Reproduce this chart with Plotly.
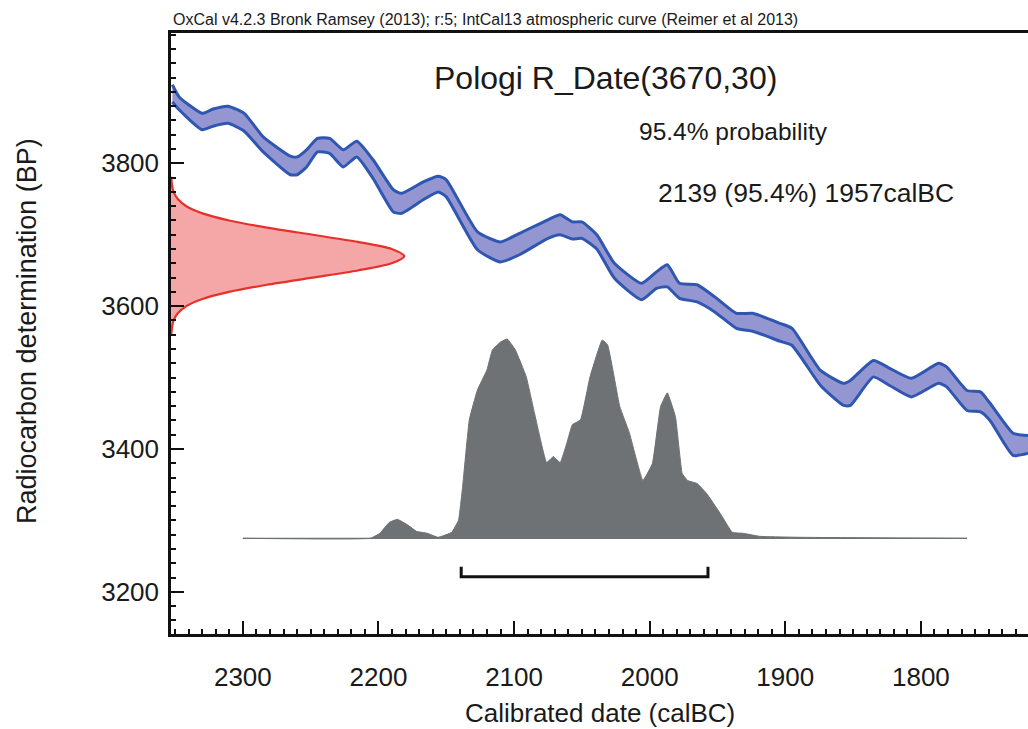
import plotly.graph_objects as go

# calibration curve (IntCal13 band)
cal_years = [2352, 2347, 2330, 2322, 2311, 2299, 2285, 2265, 2260, 2253,
             2245, 2236, 2226, 2216, 2204, 2189, 2183, 2167, 2156, 2150,
             2127, 2110, 2096, 2075, 2066, 2057, 2050, 2039, 2026, 2006,
             1995, 1987, 1978, 1965, 1952, 1936, 1924, 1904, 1895, 1874,
             1857, 1852, 1835, 1823, 1807, 1787, 1781, 1766, 1756, 1749,
             1732, 1721]
curve_upper = [3910, 3893, 3870, 3876, 3880, 3870, 3837, 3810, 3809, 3819,
               3835, 3835, 3819, 3831, 3805, 3763, 3758, 3774, 3782, 3777,
               3704, 3690, 3702, 3721, 3728, 3718, 3718, 3700, 3660, 3632,
               3648, 3658, 3632, 3630, 3613, 3590, 3590, 3576, 3569, 3510,
               3492, 3496, 3524, 3513, 3499, 3520, 3515, 3482, 3480, 3464,
               3422, 3419]
curve_lower = [3886, 3875, 3847, 3852, 3856, 3845, 3816, 3784, 3784, 3795,
               3816, 3814, 3795, 3809, 3779, 3732, 3730, 3749, 3760, 3753,
               3679, 3662, 3672, 3695, 3700, 3694, 3695, 3680, 3639, 3609,
               3625, 3627, 3611, 3606, 3592, 3569, 3565, 3551, 3545, 3489,
               3461, 3461, 3501, 3489, 3473, 3492, 3487, 3454, 3452, 3440,
               3391, 3394]

# radiocarbon measurement R_Date(3670,30) shown on the y axis
meas_bp = [3780, 3770, 3760, 3750, 3740, 3730, 3720, 3710, 3700, 3690, 3680, 3670,
           3660, 3650, 3640, 3630, 3620, 3610, 3600, 3590, 3580, 3570, 3560]
meas_density = [0.001, 0.004, 0.011, 0.029, 0.066, 0.135, 0.249, 0.411, 0.607, 0.801, 0.946, 1.0,
                0.946, 0.801, 0.607, 0.411, 0.249, 0.135, 0.066, 0.029, 0.011, 0.004, 0.001]
meas_peak_year = 2181

# calibrated posterior (relative probability)
post_years = [2300, 2206, 2199, 2192, 2186, 2178, 2172, 2164, 2156, 2146,
              2141, 2138, 2133, 2127, 2120, 2116, 2110, 2105, 2099, 2091,
              2085, 2076, 2071, 2066, 2061, 2057, 2051, 2044, 2035, 2031,
              2022, 2015, 2005, 1998, 1992, 1987, 1981, 1976, 1972, 1965,
              1958, 1948, 1939, 1931, 1919, 1889, 1766]
post_prob = [0, 0, 0.025, 0.08, 0.095, 0.065, 0.035, 0.025, 0.005, 0.03,
             0.09, 0.255, 0.595, 0.745, 0.845, 0.945, 0.985, 1.0, 0.945, 0.81,
             0.63, 0.38, 0.41, 0.38, 0.48, 0.57, 0.595, 0.81, 0.995, 0.97,
             0.66, 0.53, 0.29, 0.375, 0.66, 0.73, 0.61, 0.325, 0.29, 0.275,
             0.225, 0.125, 0.03, 0.025, 0.01, 0.005, 0]
post_base_bp = 3275
post_scale_bp = 279

# 95.4% range
range_from, range_to = 2139, 1957

X_RANGE = [2353, 1721]
Y_RANGE = [3141, 3982.5]

W, H = 1028, 729
ML, MR, MT, MB = 171, 0, 33, 95
FONT = "Liberation Sans, Arial, Helvetica, sans-serif"


def px(xp, yp):
    """pixel position -> paper coords"""
    return (xp - ML) / (W - ML - MR), (H - MB - yp) / (H - MT - MB)


fig = go.Figure()

# calibration band
blue = "#2f56b0"
fig.add_trace(go.Scatter(x=cal_years, y=curve_lower, mode="lines",
                         line=dict(color=blue, width=3, shape="spline", smoothing=0.5),
                         hoverinfo="skip"))
fig.add_trace(go.Scatter(x=cal_years, y=curve_upper, mode="lines", fill="tonexty",
                         fillcolor="rgba(142,144,207,0.95)",
                         line=dict(color=blue, width=3, shape="spline", smoothing=0.5),
                         hoverinfo="skip"))

# measurement distribution along the y axis
left_year = X_RANGE[0]
meas_x = [left_year - d * (left_year - meas_peak_year) for d in meas_density]
fig.add_trace(go.Scatter(x=[left_year] + meas_x + [left_year],
                         y=[meas_bp[0]] + meas_bp + [meas_bp[-1]],
                         mode="lines", fill="toself", fillcolor="#f5a7a7",
                         line=dict(color="#e8302a", width=2.2, shape="spline", smoothing=0.8),
                         hoverinfo="skip"))

# posterior
fig.add_trace(go.Scatter(x=[post_years[0], post_years[-1]], y=[post_base_bp, post_base_bp],
                         mode="lines", line=dict(color="#6e7274", width=1.2), hoverinfo="skip"))
fig.add_trace(go.Scatter(x=post_years, y=[post_base_bp + p * post_scale_bp for p in post_prob],
                         mode="lines", fill="tonexty", fillcolor="#6e7274",
                         line=dict(color="#6e7274", width=1, shape="spline", smoothing=0.3),
                         hoverinfo="skip"))

# range bracket
fig.add_trace(go.Scatter(x=[range_from, range_from, range_to, range_to],
                         y=[3235, 3221, 3221, 3235], mode="lines",
                         line=dict(color="#111111", width=3), hoverinfo="skip"))

notes = [
    ("OxCal v4.2.3 Bronk Ramsey (2013); r:5; IntCal13 atmospheric curve (Reimer et al 2013)",
     171, 19, 16, "left"),
    ("Pologi R_Date(3670,30)", 605, 78, 32, "center"),
    ("95.4% probability", 733, 131, 24.5, "center"),
    ("2139 (95.4%) 1957calBC", 806, 193, 26.5, "center"),
]
for text, xp, yp, size, anchor in notes:
    xx, yy = px(xp, yp)
    fig.add_annotation(x=xx, y=yy, xref="paper", yref="paper", text=text, showarrow=False,
                       xanchor=anchor, yanchor="middle",
                       font=dict(family=FONT, size=size, color="#1a1a1a"))

xx, yy = px(600, 713)
fig.add_annotation(x=xx, y=yy, xref="paper", yref="paper", text="Calibrated date (calBC)",
                   showarrow=False, xanchor="center", yanchor="middle",
                   font=dict(family=FONT, size=26, color="#1a1a1a"))
xx, yy = px(27, 331)
fig.add_annotation(x=xx, y=yy, xref="paper", yref="paper", text="Radiocarbon determination (BP)",
                   showarrow=False, xanchor="center", yanchor="middle", textangle=-90,
                   font=dict(family=FONT, size=27, color="#1a1a1a"))

axis_common = dict(showgrid=False, zeroline=False, showline=True, linecolor="#111111",
                   linewidth=2.5, ticks="inside", tickcolor="#111111", tickwidth=2,
                   ticklen=13, tickfont=dict(family=FONT, size=26, color="#1a1a1a"))

fig.update_xaxes(range=X_RANGE, tick0=0, dtick=100, mirror=True,
                 ticklabelstandoff=18,
                 minor=dict(ticks="inside", dtick=10, ticklen=5, tickwidth=1.5, tickcolor="#111111"),
                 **axis_common)
fig.update_yaxes(range=Y_RANGE, tick0=0, dtick=200, ticklabelstandoff=4,
                 minor=dict(ticks="inside", dtick=20, ticklen=5, tickwidth=1.5, tickcolor="#111111"),
                 **axis_common)

fig.update_layout(width=W, height=H, margin=dict(l=ML, r=MR, t=MT, b=MB),
                  plot_bgcolor="white", paper_bgcolor="white", showlegend=False)

# page body has a default 8px margin; drop it so the chart sits at the window origin
fig.write_html("out.html", config={"displayModeBar": False},
               post_script="document.body.style.margin='0';document.body.style.overflow='hidden';")
